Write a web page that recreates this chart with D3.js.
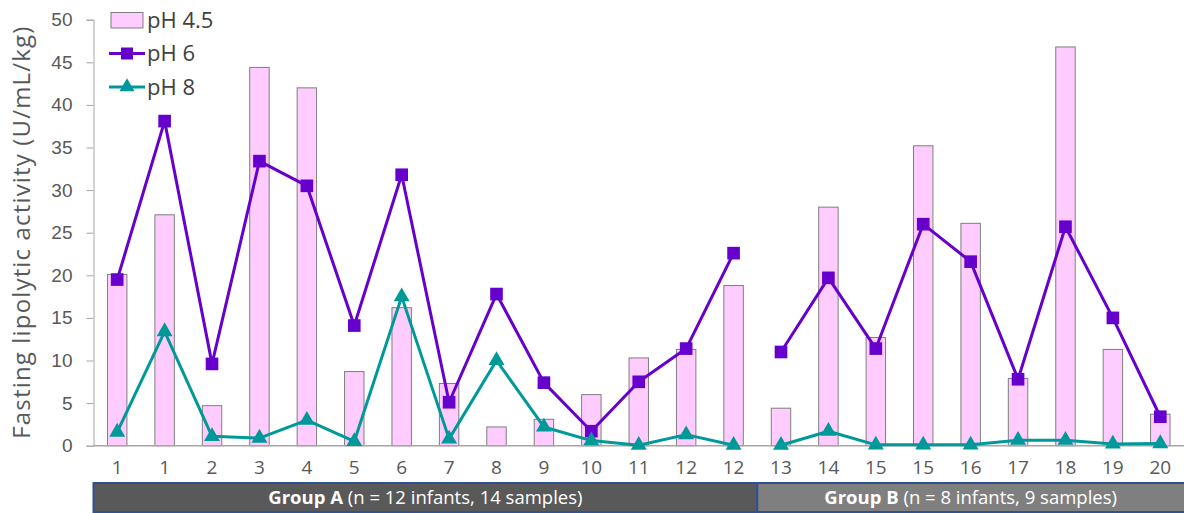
<!DOCTYPE html>
<html>
<head>
<meta charset="utf-8">
<script src="https://cdn.jsdelivr.net/npm/d3@7"></script>
<style>
  body { margin: 0; background: #fff; }
  svg { font-family: "Open Sans", "Noto Sans", sans-serif; }
</style>
</head>
<body>
<svg id="chart"></svg>
<script>
// sample labels (infant number), in plotting order
var labels = ["1","1","2","3","4","5","6","7","8","9","10","11","12","12","13","14","15","15","16","17","18","19","20"]

// groups along the x axis
var groupNames = ["Group A", "Group B"]
var groupDetails = [" (n = 12 infants, 14 samples)", " (n = 8 infants, 9 samples)"]
var groupSizes = [14, 9]

// fasting lipolytic activity (U/mL/kg)
var ph45 = [20.1, 27.1, 4.7, 44.4, 42.0, 8.7, 16.2, 7.3, 2.2, 3.1, 6.0, 10.3, 11.3, 18.8, 4.4, 28.0, 12.7, 35.2, 26.1, 7.9, 46.8, 11.3, 3.7]
var ph6 = [19.5, 38.1, 9.6, 33.4, 30.5, 14.1, 31.8, 5.1, 17.8, 7.4, 1.7, 7.5, 11.4, 22.6, 11.0, 19.7, 11.4, 26.0, 21.6, 7.8, 25.7, 15.0, 3.4]
var ph8 = [1.6, 13.4, 1.1, 0.9, 3.0, 0.5, 17.5, 0.8, 10.0, 2.2, 0.6, 0.05, 1.3, 0.05, 0.05, 1.7, 0.1, 0.1, 0.1, 0.65, 0.65, 0.2, 0.25]

var yTicks = [0, 5, 10, 15, 20, 25, 30, 35, 40, 45, 50]

var width = 1184
var height = 513
var svg = d3.select("#chart")
  .attr("width", width)
  .attr("height", height)

var idx = d3.range(labels.length)

var x = d3.scaleBand()
  .domain(idx)
  .range([93.5, 1184])
  .paddingInner(0.59)
  .paddingOuter(0.295)

var y = d3.scaleLinear()
  .domain([0, 50])
  .range([445.7, 19.7])

var cx = function(i) { return x(i) + x.bandwidth() / 2 }

// y axis
var yAxis = svg.append("g")
  .attr("transform", "translate(93.5,0)")
  .call(d3.axisLeft(y).tickValues(yTicks).tickSize(7).tickPadding(14))
yAxis.select(".domain").attr("stroke", "#a6a6a6")
yAxis.selectAll(".tick line").attr("stroke", "#a6a6a6")
yAxis.selectAll(".tick text")
  .attr("fill", "#595959")
  .style("font-size", "19px")

svg.append("text")
  .attr("transform", "translate(30," + (y(0) + y(50)) / 2 + ") rotate(-90)")
  .attr("text-anchor", "middle")
  .attr("fill", "#595959")
  .attr("textLength", 412)
  .attr("lengthAdjust", "spacing")
  .style("font-size", "24px")
  .text("Fasting lipolytic activity (U/mL/kg)")

// bars pH 4.5
svg.append("g")
  .selectAll("rect")
  .data(idx)
  .enter()
  .append("rect")
  .attr("x", d => x(d))
  .attr("width", x.bandwidth())
  .attr("y", d => y(ph45[d]))
  .attr("height", d => y(0) - y(ph45[d]))
  .attr("fill", "#ffccff")
  .attr("stroke", "#7f7f7f")
  .attr("stroke-width", 1)

// x axis line and labels
svg.append("line")
  .attr("x1", 93.5).attr("x2", width)
  .attr("y1", y(0)).attr("y2", y(0))
  .attr("stroke", "#a6a6a6")
  .attr("stroke-width", 1.5)

svg.append("g")
  .selectAll("text")
  .data(idx)
  .enter()
  .append("text")
  .attr("x", d => cx(d))
  .attr("y", 474)
  .attr("text-anchor", "middle")
  .attr("fill", "#595959")
  .style("font-size", "19px")
  .text(d => labels[d])

// lines, broken between groups
var segments = []
var start = 0
groupSizes.forEach(function(n) {
  segments.push(d3.range(start, start + n))
  start += n
})

var line = function(vals) {
  return d3.line().x(d => cx(d)).y(d => y(vals[d]))
}

var series = [
  {vals: ph6, color: "#6600cc", shape: d3.symbolSquare, size: 160},
  {vals: ph8, color: "#009999", shape: d3.symbolTriangle, size: 110}
]

series.forEach(function(s) {
  var g = svg.append("g")
  segments.forEach(function(seg) {
    g.append("path")
      .attr("d", line(s.vals)(seg))
      .attr("fill", "none")
      .attr("stroke", s.color)
      .attr("stroke-width", 3)
      .attr("stroke-linejoin", "round")
  })
  g.selectAll(".mk")
    .data(idx)
    .enter()
    .append("path")
    .attr("class", "mk")
    .attr("d", d3.symbol().type(s.shape).size(s.size))
    .attr("transform", d => "translate(" + cx(d) + "," + y(s.vals[d]) + ")")
    .attr("fill", s.color)
})

// legend
var legend = svg.append("g")
legend.append("rect")
  .attr("x", 111).attr("y", 12.5)
  .attr("width", 32).attr("height", 15.5)
  .attr("fill", "#ffccff")
  .attr("stroke", "#7f7f7f")
var legendRows = [
  {label: "pH 4.5", y: 20},
  {label: "pH 6", y: 53.5, s: series[0]},
  {label: "pH 8", y: 87, s: series[1]}
]
legendRows.forEach(function(r) {
  if (r.s) {
    legend.append("line")
      .attr("x1", 109).attr("x2", 145)
      .attr("y1", r.y).attr("y2", r.y)
      .attr("stroke", r.s.color)
      .attr("stroke-width", 3)
    legend.append("path")
      .attr("d", d3.symbol().type(r.s.shape).size(r.s.size * 0.9))
      .attr("transform", "translate(127," + r.y + ")")
      .attr("fill", r.s.color)
  }
  legend.append("text")
    .attr("x", 147)
    .attr("y", r.y + 7.5)
    .attr("fill", "#404040")
    .style("font-size", "22px")
    .text(r.label)
})

// group boxes under the axis
var groupFill = ["#595959", "#7f7f7f"]
var gStart = 0
groupSizes.forEach(function(n, gi) {
  var x0 = gi === 0 ? 93.5 : x(gStart) - x.step() * x.paddingInner() / 2
  var x1 = gi === groupSizes.length - 1 ? width + 2 : x(gStart + n - 1) + x.bandwidth() + x.step() * x.paddingInner() / 2
  svg.append("rect")
    .attr("x", x0).attr("y", 483)
    .attr("width", x1 - x0).attr("height", 29)
    .attr("fill", groupFill[gi])
    .attr("stroke", "#2f528f")
    .attr("stroke-width", 2)
  var t = svg.append("text")
    .attr("x", (x0 + Math.min(x1, width)) / 2)
    .attr("y", 504)
    .attr("text-anchor", "middle")
    .attr("fill", "#fff")
    .style("font-size", "18.5px")
  t.append("tspan").attr("font-weight", "bold").text(groupNames[gi])
  t.append("tspan").text(groupDetails[gi])
  gStart += n
})
</script>
</body>
</html>
